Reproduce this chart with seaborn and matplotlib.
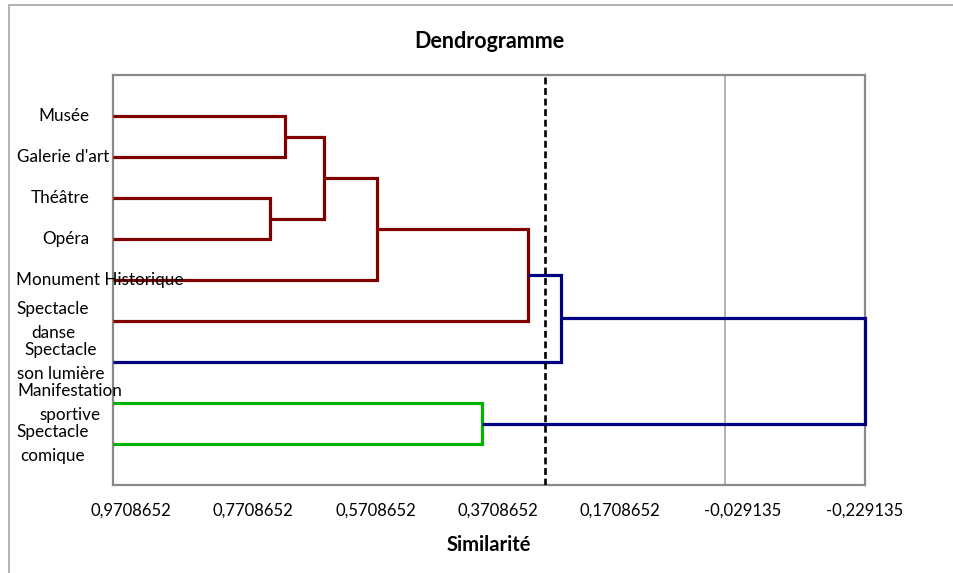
import numpy as np
import matplotlib
matplotlib.use("Agg")
import matplotlib.pyplot as plt
import matplotlib.transforms as mtransforms
from matplotlib.patches import Rectangle
import seaborn as sns
import pandas as pd

# --- données du dendrogramme ---
feuilles = ["Musée", "Galerie d'art", "Théâtre", "Opéra", "Monument Historique",
            "Spectacle\ndanse", "Spectacle\nson lumière", "Manifestation\nsportive",
            "Spectacle\ncomique"]
# fusions (nœud gauche, nœud droit) ; les nœuds >= 9 sont les fusions précédentes
fusion_gauche = [0, 2, 9, 11, 12, 13, 7, 14]
fusion_droite = [1, 3, 10, 4, 5, 6, 8, 15]
fusion_similarite = [0.7195, 0.7440, 0.6561, 0.5689, 0.3218, 0.2678, 0.3964, -0.229135]
fusion_groupe = ["rouge", "rouge", "rouge", "rouge", "rouge", "bleu", "vert", "bleu"]
similarite_feuille = 1.0
seuil_troncature = 0.2944
graduations = [0.9708652, 0.7708652, 0.5708652, 0.3708652, 0.1708652, -0.029135, -0.229135]
etiquettes_grad = ["0,9708652", "0,7708652", "0,5708652", "0,3708652", "0,1708652",
                   "-0,029135", "-0,229135"]

couleurs = {"rouge": "#800000", "bleu": "#000080", "vert": "#00B400"}

sns.set_style("white")
plt.rcParams['font.family'] = ['Lato', 'DejaVu Sans']
plt.rcParams['text.color'] = 'black'
plt.rcParams['xtick.labelcolor'] = 'black'

fig = plt.figure(figsize=(9.54, 5.73), dpi=100)
W, H = 954, 573
ax = fig.add_axes([113 / W, (H - 485) / H, (865 - 113) / W, (485 - 75) / H])

# cadre extérieur du graphique
fig.patches.append(Rectangle((9 / W, -0.1), 1.2, (H - 5) / H + 0.1, transform=fig.transFigure,
                             fill=False, edgecolor="#A6A6A6", linewidth=1.2))

# positions des nœuds
n = len(feuilles)
pos_y = {i: i + 1 for i in range(n)}
pos_x = {i: similarite_feuille for i in range(n)}
for k, (g, d, s) in enumerate(zip(fusion_gauche, fusion_droite, fusion_similarite)):
    noeud = n + k
    pos_y[noeud] = (pos_y[g] + pos_y[d]) / 2
    pos_x[noeud] = s

# tracé des liens en U
segments = []
for k, (g, d, s, grp) in enumerate(zip(fusion_gauche, fusion_droite, fusion_similarite, fusion_groupe)):
    xs = [pos_x[g], s, s, pos_x[d]]
    ys = [pos_y[g], pos_y[g], pos_y[d], pos_y[d]]
    segments.append(pd.DataFrame({"x": xs, "y": ys, "lien": k, "groupe": grp}))
liens = pd.concat(segments, ignore_index=True)
for k, lien in liens.groupby("lien"):
    sns.lineplot(data=lien, x="x", y="y", sort=False, estimator=None, ax=ax,
                 color=couleurs[lien["groupe"].iloc[0]], linewidth=2.3,
                 solid_joinstyle="miter", solid_capstyle="butt", zorder=3, clip_on=False)

# ligne de troncature
ax.axvline(seuil_troncature, color="black", linestyle=(0, (2.6, 1.4)), linewidth=1.9, zorder=4)
# ligne verticale en 0
ax.axvline(0, color="#ADADAD", linewidth=1.3, zorder=1)

ax.set_xlim(1.0003, -0.229135)
ax.set_ylim(n + 1, 0)
ax.set_xlabel("")
ax.set_ylabel("")
ax.set_xticks(graduations)
ax.set_xticklabels(etiquettes_grad, fontsize=12)
ax.set_yticks([])
ax.tick_params(axis="x", direction="inout", length=9, width=1.2, color="#898989", pad=8)
for sp in ax.spines.values():
    sp.set_color("#898989")
    sp.set_linewidth(1.6)

# étiquettes des feuilles
centres_px = [64, 63.5, 60, 66, 100, 53, 61, 70, 53]
trans = mtransforms.blended_transform_factory(fig.transFigure, ax.transData)
for i, lab in enumerate(feuilles):
    ax.text(centres_px[i] / W, pos_y[i], lab, transform=trans, ha="center", va="center",
            fontsize=12.3, linespacing=1.55, zorder=5, clip_on=False)

fig.text(489 / W, 1 - 42 / H, "Dendrogramme", ha="center", va="center",
         fontsize=15.5, fontweight="bold")
fig.text(489 / W, 1 - 545 / H, "Similarité", ha="center", va="center",
         fontsize=14.5, fontweight="bold")

fig.savefig("out.png", dpi=100)
